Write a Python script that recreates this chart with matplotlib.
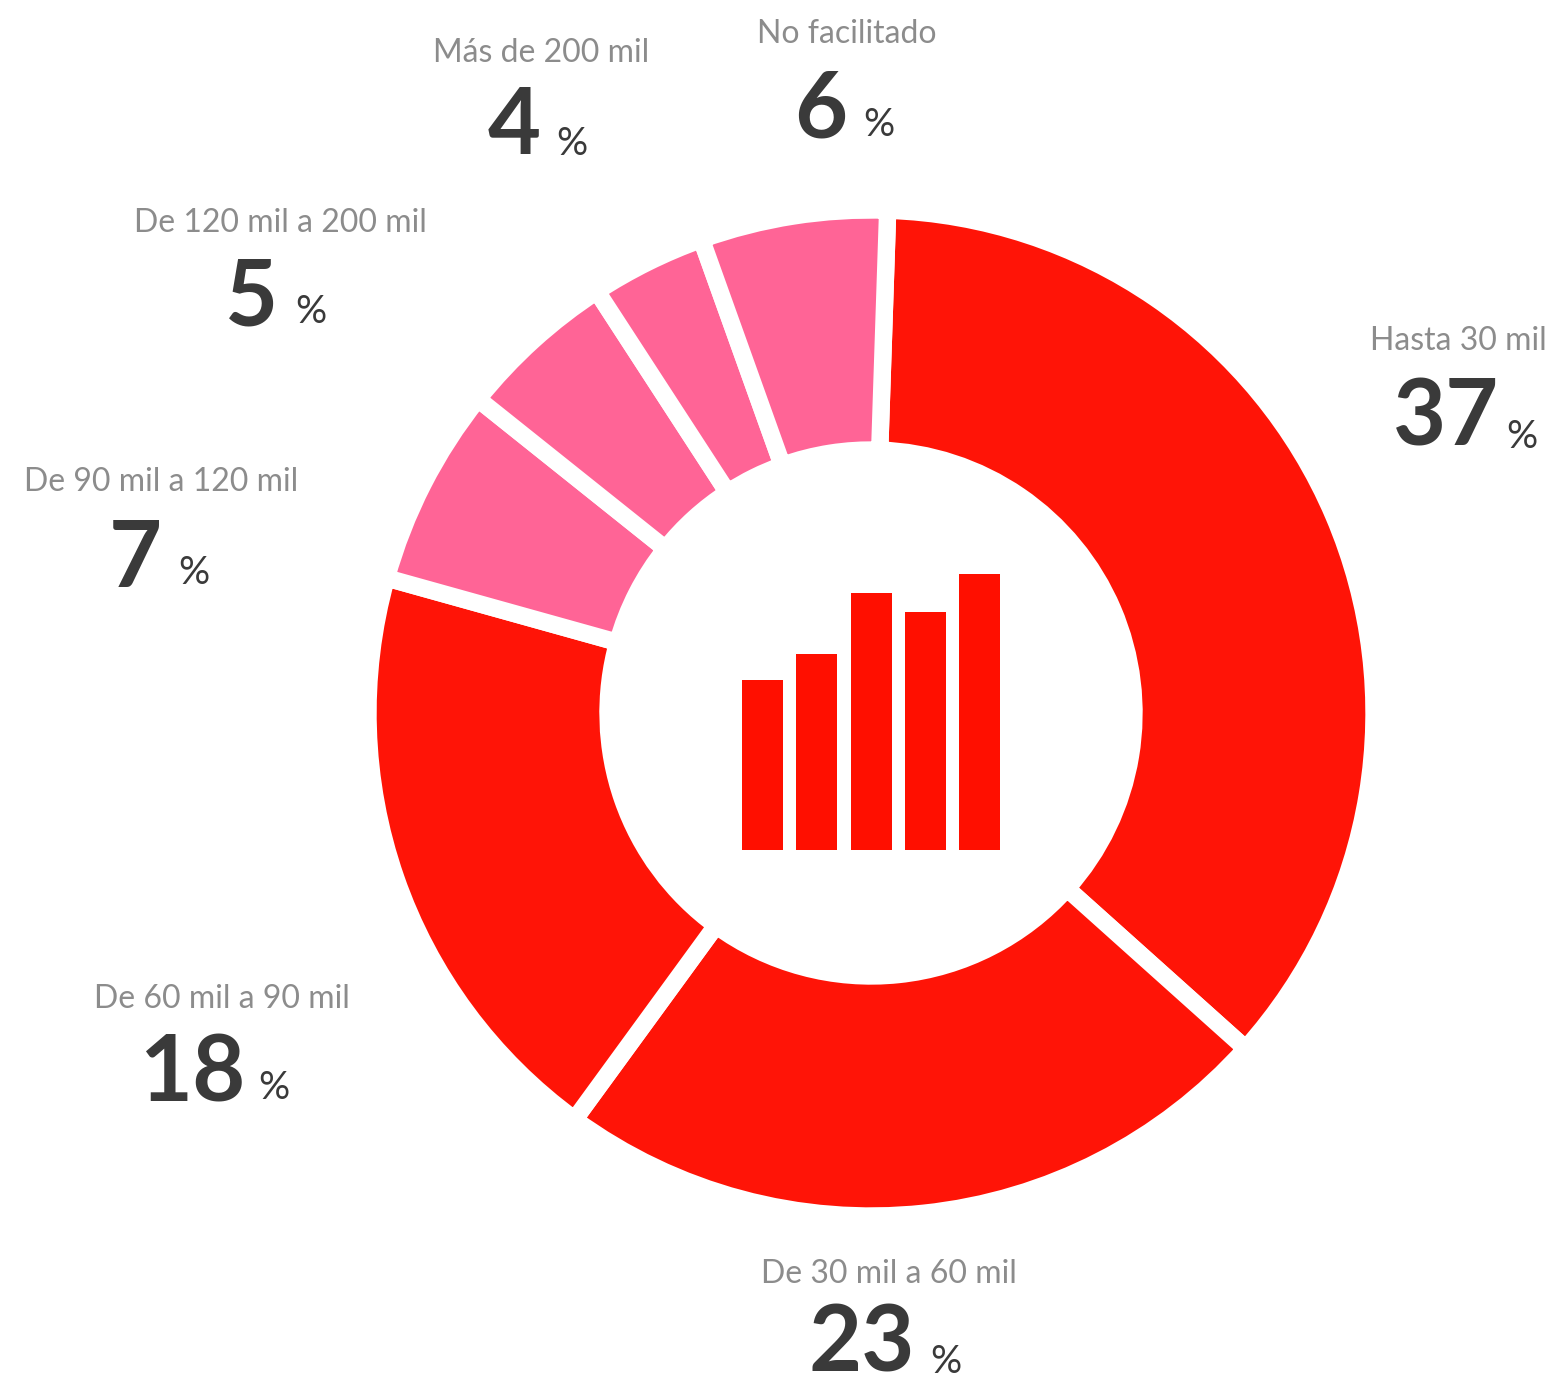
import matplotlib
matplotlib.use("Agg")
import matplotlib.pyplot as plt

W, H = 1546, 1383

# printed values in percent, clockwise from the top
labels = ["Hasta 30 mil", "De 30 mil a 60 mil", "De 60 mil a 90 mil", "De 90 mil a 120 mil",
          "De 120 mil a 200 mil", "Más de 200 mil", "No facilitado"]
values = [37, 23, 18, 7, 5, 4, 6]
# the arcs in the picture are not quite proportional to the printed values, so measure them
arc_shares = [36.1, 23.4, 19.3, 6.4, 5.1, 3.7, 6.0]
colors = ["#ff1407", "#ff1407", "#ff1407", "#ff6496", "#ff6496", "#ff6496", "#ff6496"]

# center icon bar heights
icon_heights = [170, 196, 257, 238, 276]

# label centers in pixels
label_x = [1458, 889, 222, 161, 280, 541, 847]
label_y = [341, 1274, 999, 482, 223, 53, 34]
num_x = [1446, 862, 192, 135, 252, 514, 821]
num_y = [420, 1345, 1075, 561, 299, 128, 112]
pct_x = [1522, 946, 274, 194, 311, 572, 879]
pct_y = [437, 1362, 1088, 573, 312, 144, 125]

fig = plt.figure(figsize=(W / 100, H / 100), dpi=100)
ax = fig.add_axes([0, 0, 1, 1])

# y axis gets flipped below, so counterclock=True runs clockwise on screen
ax.pie(arc_shares, colors=colors, center=(871, 713), radius=503, startangle=-88.1, counterclock=True,
       wedgeprops=dict(width=240, edgecolor="white", linewidth=12.5), frame=True)
ax.set_xlim(0, W)
ax.set_ylim(H, 0)
ax.set_aspect("auto")
ax.axis("off")

# bar icon
ax.bar([762, 816, 871, 925, 979], icon_heights, width=41, bottom=[850 - h for h in icon_heights], color="#ff0f00")

for i in range(len(labels)):
    ax.text(label_x[i], label_y[i], labels[i], family="Lato", fontsize=23, color="#8c8c8c", ha="center", va="center")
    ax.text(num_x[i], num_y[i], str(values[i]), family="Lato", fontsize=66, fontweight="bold", color="#3a3a3a", ha="center", va="center")
    ax.text(pct_x[i], pct_y[i], "%", family="Lato", fontsize=28, color="#3a3a3a", ha="center", va="center")

fig.savefig("out.png", dpi=100, facecolor="white")
